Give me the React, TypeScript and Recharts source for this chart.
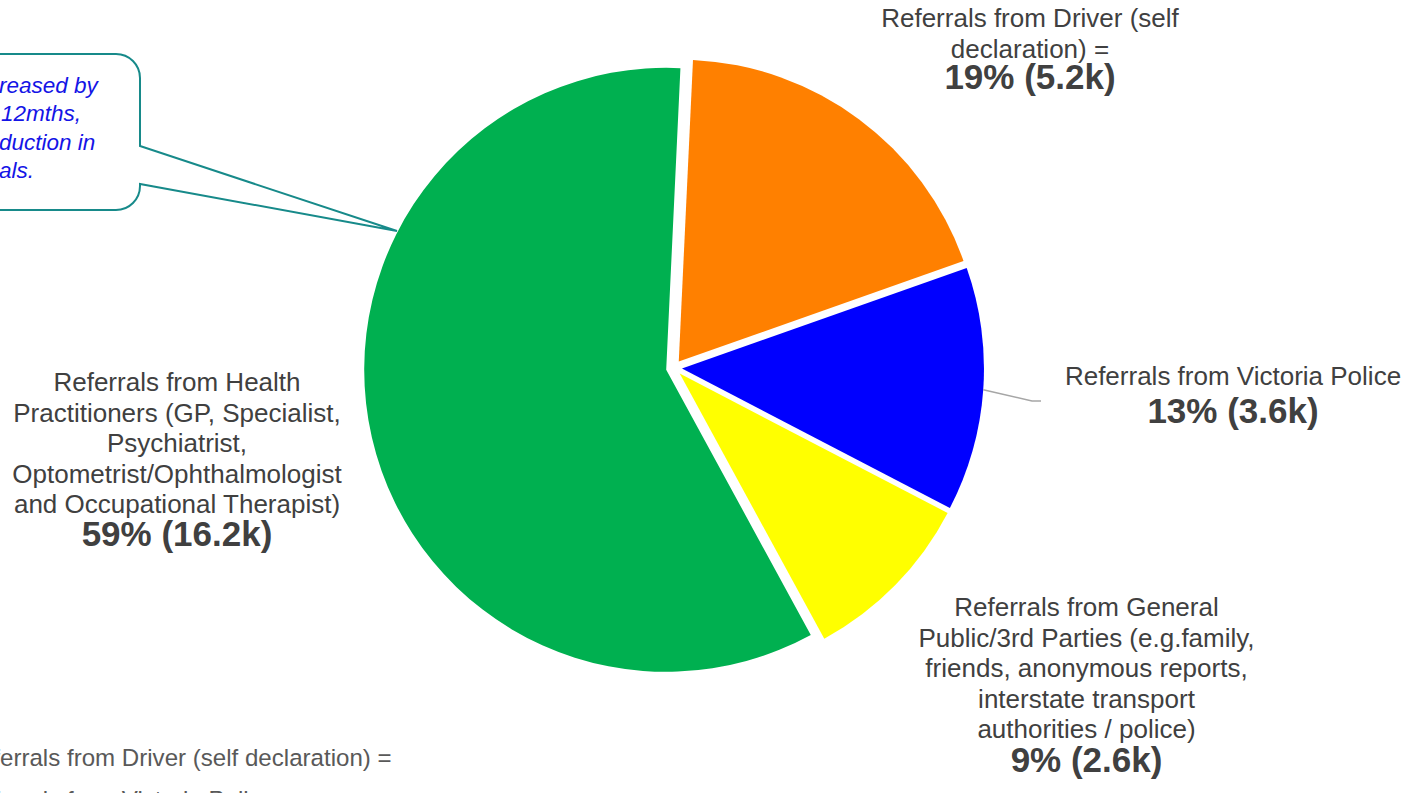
import { PieChart, Pie, Cell, Sector, Legend } from "recharts";

// referral sources, clockwise from 12 o'clock
const categories = [
  "Referrals from Driver (self declaration) =",
  "Referrals from Victoria Police",
  "Referrals from General Public/3rd Parties (e.g.family, friends, anonymous reports, interstate transport authorities / police)",
  "Referrals from Health Practitioners (GP, Specialist, Psychiatrist, Optometrist/Ophthalmologist and Occupational Therapist)",
];
const valuesK = [5.2, 3.6, 2.6, 16.2];
const labelLines = [
  ["Referrals from Driver (self", "declaration) ="],
  ["Referrals from Victoria Police"],
  [
    "Referrals from General",
    "Public/3rd Parties (e.g.family,",
    "friends, anonymous reports,",
    "interstate transport",
    "authorities / police)",
  ],
  [
    "Referrals from Health",
    "Practitioners (GP, Specialist,",
    "Psychiatrist,",
    "Optometrist/Ophthalmologist",
    "and Occupational Therapist)",
  ],
];
const colors = ["#FF8000", "#0000FF", "#FFFF00", "#00B050"];
// the callout is cut off at the left edge of the picture
const calloutLines = ["reased by", "12mths,", "duction in", "als."];

const data = categories.map((name, i) => ({ name, value: valuesK[i] }));

const FONT = '"Liberation Sans", Arial, sans-serif';
const TEXT = "#404040";
const LINE_H = 30.5;
const EXPLODE = 8;
const RAD = Math.PI / 180;
const CX = 674;
const CY = 368;

// label placement relative to the pie centre
const labelPlacement = [
  { dx: 356, dy: -341, boldGap: 31 },
  { dx: 559, dy: 17, boldGap: 38, leader: true },
  { dx: 412.5, dy: 248, boldGap: 34 },
  { dx: -497, dy: 23, boldGap: 33 },
];

function ExplodedSector(props: any) {
  const { cx, cy, midAngle } = props;
  const ox = EXPLODE * Math.cos(-midAngle * RAD);
  const oy = EXPLODE * Math.sin(-midAngle * RAD);
  return <Sector {...props} cx={cx + ox} cy={cy + oy} stroke="none" />;
}

const renderLabel = (props: any) => {
  const { cx, cy, index, midAngle, outerRadius, percent, value } = props;
  const place = labelPlacement[index];
  const x = cx + place.dx;
  const y0 = cy + place.dy;
  const lines = labelLines[index];
  const boldY = y0 + (lines.length - 1) * LINE_H + place.boldGap;
  let leader = null;
  if (place.leader) {
    const ccx = cx + EXPLODE * Math.cos(-midAngle * RAD);
    const ccy = cy + EXPLODE * Math.sin(-midAngle * RAD);
    const sx = ccx + outerRadius * Math.cos(-midAngle * RAD);
    const sy = ccy + outerRadius * Math.sin(-midAngle * RAD);
    leader = (
      <polyline
        points={`${sx},${sy} ${cx + 358},${cy + 33} ${cx + 367},${cy + 33}`}
        fill="none"
        stroke="#A6A6A6"
        strokeWidth={1.5}
      />
    );
  }
  return (
    <g key={`lbl-${index}`}>
      {leader}
      <text x={x} y={y0} textAnchor="middle" fontSize={26} fill={TEXT} fontFamily={FONT}>
        {lines.map((l, i) => (
          <tspan key={i} x={x} y={y0 + i * LINE_H}>
            {l}
          </tspan>
        ))}
      </text>
      <text
        x={x}
        y={boldY}
        textAnchor="middle"
        fontSize={35}
        fontWeight="bold"
        fill={TEXT}
        fontFamily={FONT}
      >
        {`${Math.round(percent * 100)}% (${value}k)`}
      </text>
    </g>
  );
};

const renderLegend = (p: any) => (
  <div style={{ fontFamily: FONT, fontSize: 24.1, lineHeight: "42px", color: "#595959" }}>
    {(p.payload || []).map((item: any, i: number) => (
      <div key={i} style={{ whiteSpace: "nowrap", display: "flex", alignItems: "center" }}>
        <span
          style={{
            display: "inline-block",
            width: 14,
            height: 14,
            background: item.color,
            marginRight: 7,
          }}
        />
        <span>{item.value}</span>
      </div>
    ))}
  </div>
);

export default function App() {
  return (
    <div
      style={{
        position: "absolute",
        left: 0,
        top: 0,
        width: 1417,
        height: 793,
        overflow: "hidden",
        background: "#fff",
      }}
    >
      <PieChart width={1417} height={793} margin={{ top: 0, right: 0, bottom: 0, left: 0 }}>
        <Pie
          data={data}
          dataKey="value"
          nameKey="name"
          cx={CX}
          cy={CY}
          outerRadius={302}
          startAngle={87.3}
          endAngle={-272.7}
          stroke="none"
          labelLine={false}
          label={renderLabel}
          shape={ExplodedSector}
          isAnimationActive={false}
        >
          {data.map((d, i) => (
            <Cell key={d.name} fill={colors[i]} />
          ))}
        </Pie>
        <Legend
          verticalAlign="bottom"
          align="left"
          content={renderLegend}
          itemSorter={(item: any) => categories.indexOf(item.value)}
          wrapperStyle={{ left: -58.5, top: 736.8, bottom: "auto", width: "auto" }}
        />
      </PieChart>
      <svg
        width={1417}
        height={793}
        style={{ position: "absolute", left: 0, top: 0, pointerEvents: "none" }}
      >
        <path
          d="M -300 54 H 116 A 24 24 0 0 1 140 78 V 146 L 397 231 L 140 184 V 186 A 24 24 0 0 1 116 210 H -300 Z"
          fill="#fff"
          stroke="#178A8A"
          strokeWidth={2}
        />
        <text fontFamily={FONT} fontSize={22.5} fontStyle="italic" fill="#1414E6">
          {calloutLines.map((l, i) => (
            <tspan key={i} x={i === 1 ? 1 : -1} y={93 + i * 28.4}>
              {l}
            </tspan>
          ))}
        </text>
      </svg>
    </div>
  );
}
